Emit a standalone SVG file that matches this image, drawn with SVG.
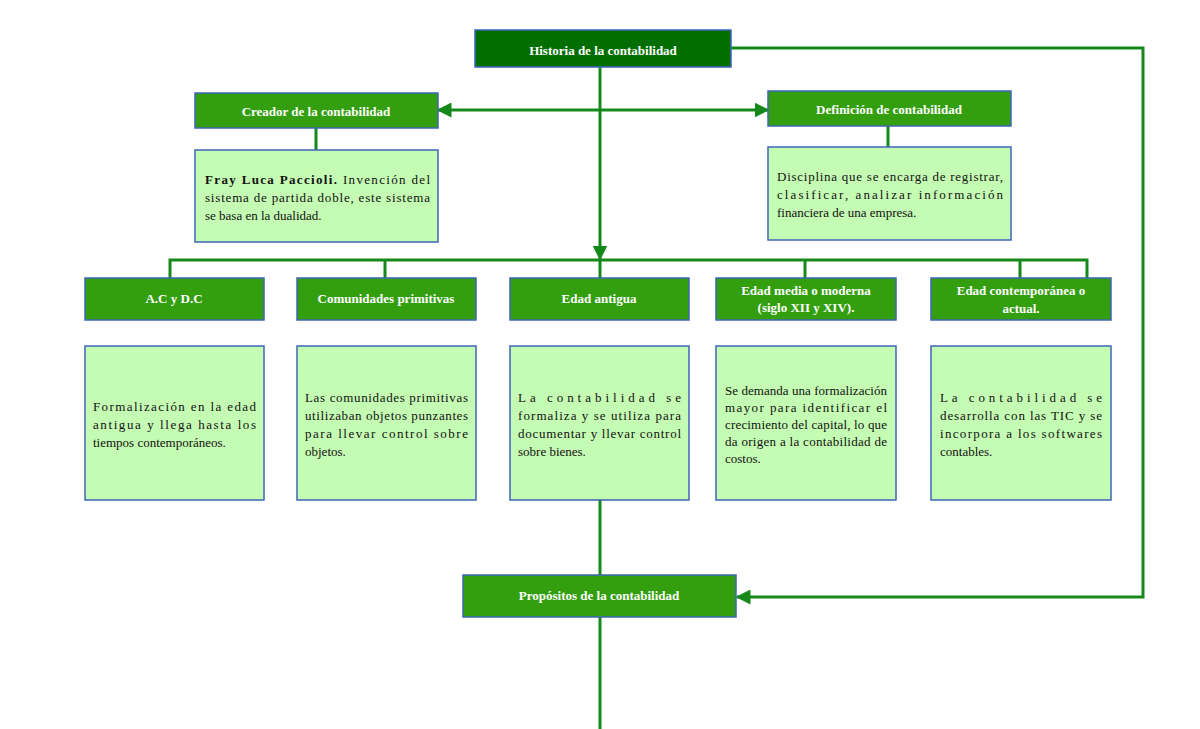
<svg xmlns="http://www.w3.org/2000/svg" width="1200" height="729" viewBox="0 0 1200 729">
<style>
.hd{fill:#339e0e;stroke:#3f66b8;stroke-width:1.5}
.bx{fill:#c5fcb3;stroke:#3f66b8;stroke-width:1.5}
.ht{font-family:"Liberation Serif",serif;font-weight:bold;fill:#fff;font-size:13px;text-anchor:middle}
.bt{font-family:"Liberation Serif",serif;fill:#111;font-size:13px}
.ln{stroke:#17881a;stroke-width:3;fill:none}
</style>
<defs>
<marker id="ar" viewBox="0 0 10 10" refX="9" refY="5" markerWidth="5" markerHeight="5" orient="auto-start-reverse" markerUnits="strokeWidth"><path d="M0,0L10,5L0,10z" fill="#17881a"/></marker>
</defs>
<rect width="1200" height="729" fill="#fff"/>
<g id="connectors">
<path class="ln" d="M438,110H768" marker-start="url(#ar)" marker-end="url(#ar)"/>
<path class="ln" d="M600,67V259" marker-end="url(#ar)"/>
<path class="ln" d="M170,278V260H1087V278M385,260V278M805,260V278M1020,260V278M600,260V278"/>
<path class="ln" d="M316,128V150M888,126V147"/>
<path class="ln" d="M600,500V575M600,617V729"/>
<path class="ln" d="M731,48H1143V597H737" marker-end="url(#ar)"/>
</g>
<g id="historia"><rect x="475" y="30" width="256" height="37" fill="#006e00" stroke="#3f66b8" stroke-width="1.5"/><text class="ht" x="603" y="55" font-size="19">Historia de la contabilidad</text></g>
<g id="creador"><rect class="hd" x="195" y="93" width="243" height="35"/><text class="ht" x="316" y="116">Creador de la contabilidad</text></g>
<g id="definicion"><rect class="hd" x="768" y="91" width="243" height="35"/><text class="ht" x="889" y="114">Definición de contabilidad</text></g>
<g id="fray"><rect class="bx" x="195" y="150" width="243" height="92"/>
<text class="bt" x="205" y="184" textLength="225" lengthAdjust="spacing"><tspan font-weight="bold">Fray Luca Paccioli.</tspan> Invención del</text>
<text class="bt" x="205" y="202" textLength="225" lengthAdjust="spacing">sistema de partida doble, este sistema</text>
<text class="bt" x="205" y="220">se basa en la dualidad.</text></g>
<g id="disciplina"><rect class="bx" x="768" y="147" width="243" height="93"/>
<text class="bt" x="777" y="181" textLength="226" lengthAdjust="spacing">Disciplina que se encarga de registrar,</text>
<text class="bt" x="777" y="199" textLength="226" lengthAdjust="spacing">clasificar,     analizar     información</text>
<text class="bt" x="777" y="217">financiera de una empresa.</text></g>
<g id="ac"><rect class="hd" x="85" y="278" width="179" height="42"/><text class="ht" x="174" y="303">A.C y D.C</text></g>
<g id="comunidades"><rect class="hd" x="297" y="278" width="179" height="42"/><text class="ht" x="386" y="303">Comunidades primitivas</text></g>
<g id="antigua"><rect class="hd" x="510" y="278" width="179" height="42"/><text class="ht" x="599" y="303">Edad antigua</text></g>
<g id="media"><rect class="hd" x="716" y="278" width="180" height="42"/><text class="ht" x="806" y="295" font-size="12">Edad media o moderna</text><text class="ht" x="806" y="312" font-size="12">(siglo XII y XIV).</text></g>
<g id="contemporanea"><rect class="hd" x="931" y="278" width="180" height="42"/><text class="ht" x="1021" y="295">Edad contemporánea o</text><text class="ht" x="1021" y="313">actual.</text></g>
<g id="b1"><rect class="bx" x="85" y="346" width="179" height="154"/>
<text class="bt" x="93" y="411" textLength="163" lengthAdjust="spacing">Formalización en la edad</text>
<text class="bt" x="93" y="429" textLength="163" lengthAdjust="spacing">antigua y llega hasta los</text>
<text class="bt" x="93" y="447">tiempos contemporáneos.</text></g>
<g id="b2"><rect class="bx" x="297" y="346" width="179" height="154"/>
<text class="bt" x="305" y="402" textLength="163" lengthAdjust="spacing">Las comunidades primitivas</text>
<text class="bt" x="305" y="420" textLength="163" lengthAdjust="spacing">utilizaban objetos punzantes</text>
<text class="bt" x="305" y="438" textLength="163" lengthAdjust="spacing">para llevar control sobre</text>
<text class="bt" x="305" y="456">objetos.</text></g>
<g id="b3"><rect class="bx" x="510" y="346" width="179" height="154"/>
<text class="bt" x="518" y="402" textLength="163" lengthAdjust="spacing">La        contabilidad        se</text>
<text class="bt" x="518" y="420" textLength="163" lengthAdjust="spacing">formaliza y se utiliza para</text>
<text class="bt" x="518" y="438" textLength="163" lengthAdjust="spacing">documentar y llevar control</text>
<text class="bt" x="518" y="456">sobre bienes.</text></g>
<g id="b4"><rect class="bx" x="716" y="346" width="180" height="154"/>
<text class="bt" x="725" y="395" font-size="11.5" textLength="162" lengthAdjust="spacing">Se demanda una formalización</text>
<text class="bt" x="725" y="412" font-size="11.5" textLength="162" lengthAdjust="spacing">mayor   para   identificar   el</text>
<text class="bt" x="725" y="429" font-size="11.5" textLength="162" lengthAdjust="spacing">crecimiento del capital, lo que</text>
<text class="bt" x="725" y="446" font-size="11.5" textLength="162" lengthAdjust="spacing">da origen a la contabilidad de</text>
<text class="bt" x="725" y="463" font-size="11.5">costos.</text></g>
<g id="b5"><rect class="bx" x="931" y="346" width="180" height="154"/>
<text class="bt" x="940" y="402" textLength="162" lengthAdjust="spacing">La        contabilidad        se</text>
<text class="bt" x="940" y="420" textLength="162" lengthAdjust="spacing">desarrolla con las TIC y se</text>
<text class="bt" x="940" y="438" textLength="162" lengthAdjust="spacing">incorpora a los softwares</text>
<text class="bt" x="940" y="456">contables.</text></g>
<g id="propositos"><rect class="hd" x="463" y="575" width="273" height="42"/><text class="ht" x="599" y="600">Propósitos de la contabilidad</text></g>
</svg>
